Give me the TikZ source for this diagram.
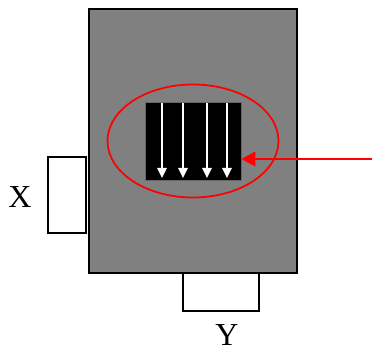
\documentclass[tikz,border=0pt]{standalone}
\usepackage{fontspec}
\setmainfont{Liberation Serif}
\usetikzlibrary{arrows.meta,shapes.geometric}
\begin{document}
\begin{tikzpicture}[x=0.75pt,y=-0.75pt,
  box/.style={draw=black,line width=1.5pt,inner sep=0pt,outer sep=0pt},
  flow/.style={draw=white,line width=1.5pt,-{Triangle[width=7pt,length=7.5pt]}},
  pointer/.style={draw=red,line width=1.3pt,-{Triangle[width=11pt,length=10.5pt]}},
  lab/.style={font=\fontsize{24}{28}\selectfont,inner sep=0pt}]
\useasboundingbox (0,0) rectangle (372,353);
\node[box,fill=gray,minimum width=208*0.75pt,minimum height=264*0.75pt] (main) at (193,141) {};
\node[box,fill=white,minimum width=38*0.75pt,minimum height=76*0.75pt] (xbox) at (67,195) {};
\node[box,fill=white,minimum width=76*0.75pt,minimum height=38*0.75pt] (ybox) at (221,292) {};
\node[draw=black!60,line width=0.6pt,fill=black,inner sep=0pt,minimum width=96*0.75pt,minimum height=78*0.75pt] (blk) at (193,141) {};
\node[ellipse,draw=red,line width=1.3pt,inner sep=0pt,minimum width=171*0.75pt,minimum height=113*0.75pt] (ring) at (193,141) {};
\node[lab] (xl) at (20,197) {X};
\node[lab] (yl) at (227,335) {Y};
\foreach \i/\xx in {1/162,2/183,3/207,4/227}{
  \coordinate (t\i) at (\xx,103);
  \coordinate (b\i) at (\xx,178);
  \draw[flow] (t\i) -- (b\i);
}
\coordinate (src) at (372,159);
\draw[pointer] (src) -- (blk.east |- src);
\end{tikzpicture}
\end{document}
